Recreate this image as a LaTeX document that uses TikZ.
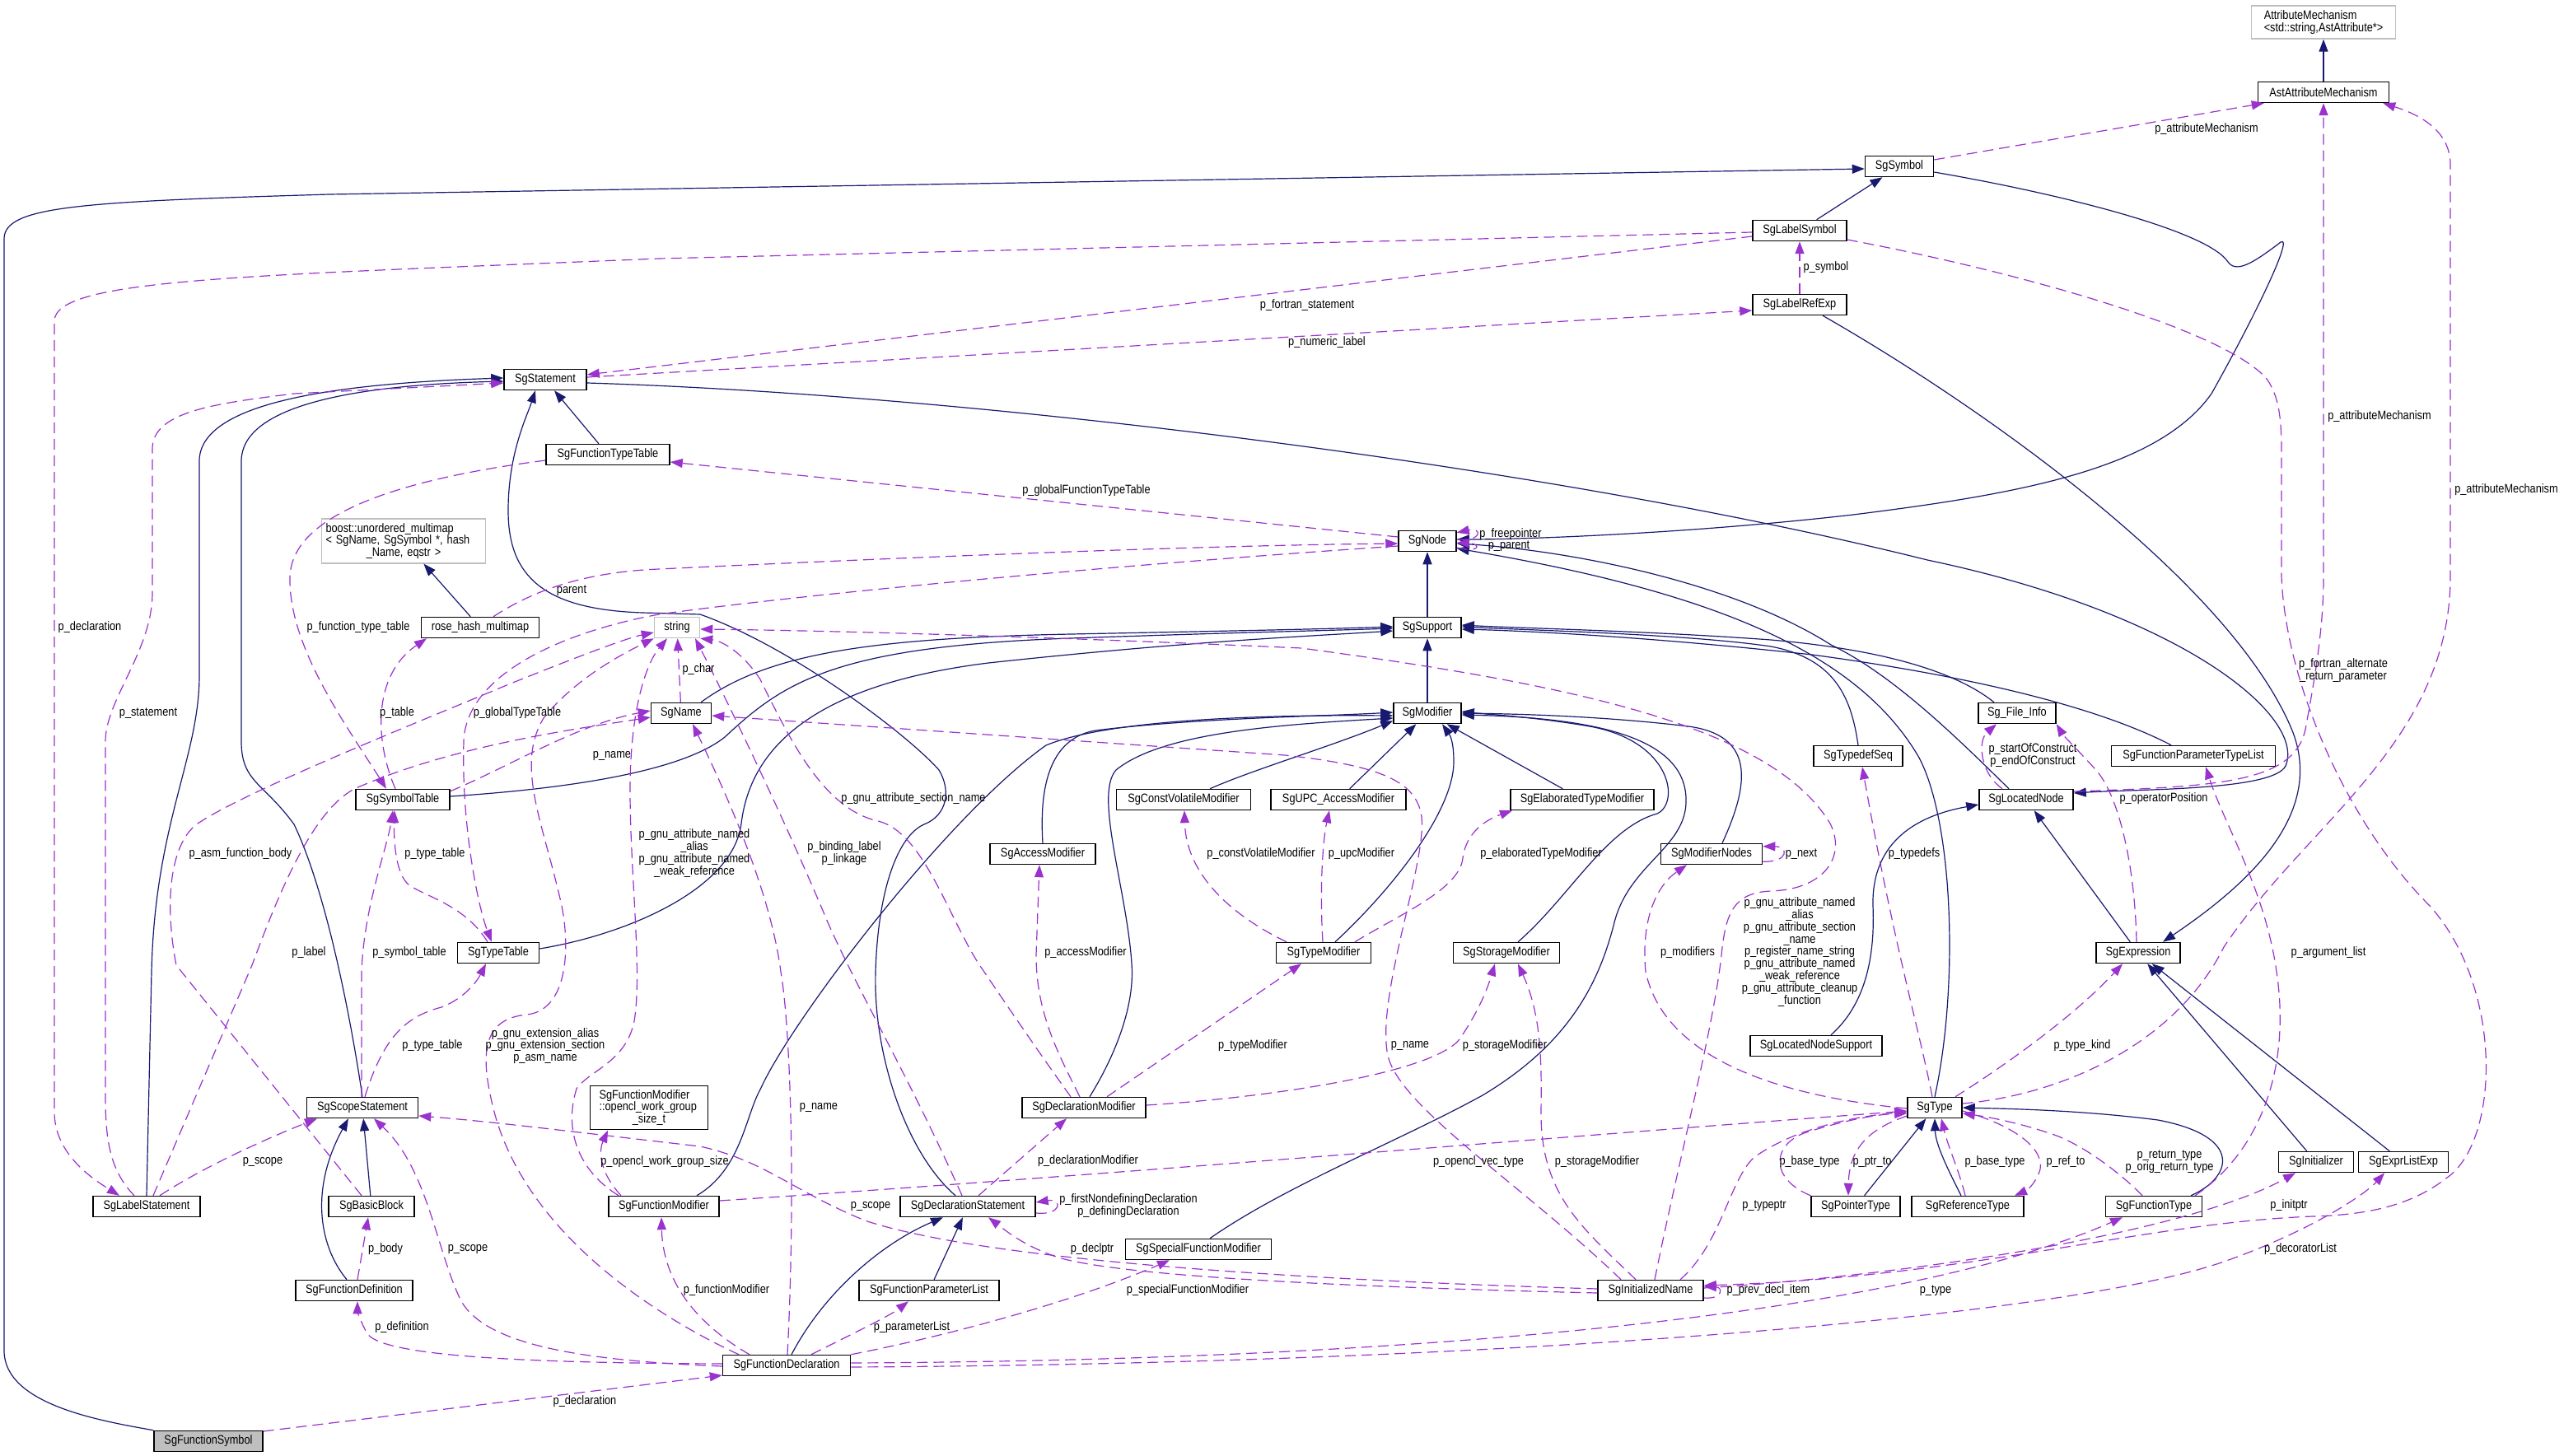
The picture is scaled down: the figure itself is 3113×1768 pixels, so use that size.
\documentclass[tikz,border=0pt]{standalone}
\usepackage{fontspec}
\setmainfont{Liberation Sans}[FakeStretch=0.85]
\usetikzlibrary{arrows.meta}
\definecolor{navy}{RGB}{25,25,112}
\definecolor{purp}{RGB}{154,50,205}
\definecolor{gbord}{RGB}{191,191,191}
\definecolor{fsgray}{RGB}{191,191,191}
\newcommand{\dgfont}{\fontsize{15}{14.8}\selectfont}
\tikzset{
 cls/.style={draw=black, line width=1.5pt, fill=white, minimum height=25pt, inner xsep=3pt, inner ysep=2pt, font=\dgfont, align=center},
 gcls/.style={cls, draw=gbord},
 inhedge/.style={draw=navy, line width=1.2pt, -{Triangle[length=15pt,width=11pt]}},
 usedge/.style={draw=purp, line width=1.2pt, dash pattern=on 13pt off 7pt, -{Triangle[length=15pt,width=11pt]}},
 lbl/.style={font=\dgfont, inner sep=0pt, align=center},
}
\begin{document}
\begin{tikzpicture}[x=1pt,y=-1pt]
\fill[white] (0,0) rectangle (3113,1768);
\useasboundingbox (0,0) rectangle (3113,1768);
% nodes
\node[gcls, align=left, minimum width=175pt, minimum height=40pt] (am) at (2821,27) {AttributeMechanism\\<std::string,AstAttribute*>};
\node[cls, minimum width=159pt] (aam) at (2821,112) {AstAttributeMechanism};
\node[cls, minimum width=83pt] (sym) at (2306,202) {SgSymbol};
\node[cls, minimum width=114pt] (lsym) at (2185,280) {SgLabelSymbol};
\node[cls, minimum width=114pt] (lref) at (2185,370) {SgLabelRefExp};
\node[cls, minimum width=100pt] (stmt) at (662,461) {SgStatement};
\node[cls, minimum width=150pt] (ftt) at (738,552) {SgFunctionTypeTable};
\node[gcls, text width=189pt, align=left, inner xsep=5pt, inner ysep=5pt] (boost) at (490,657) {boost::unordered\_multimap\\< SgName, SgSymbol *, hash\\\makebox[\linewidth][c]{\_Name, eqstr >}};
\node[cls, minimum width=143pt] (rhm) at (583,762) {rose\_hash\_multimap};
\node[cls, minimum width=70pt] (node) at (1733,657) {SgNode};
\node[cls, minimum width=82pt] (supp) at (1733,762) {SgSupport};
\node[gcls, minimum width=55pt] (str) at (822,762) {string};
\node[cls, minimum width=73pt] (name) at (827,866) {SgName};
\node[cls, minimum width=114pt] (symtab) at (489,971) {SgSymbolTable};
\node[cls, minimum width=82pt] (mod) at (1733,866) {SgModifier};
\node[cls, minimum width=94pt] (finfo) at (2449,866) {Sg\_File\_Info};
\node[cls, minimum width=199pt] (fptl) at (2663,918) {SgFunctionParameterTypeList};
\node[cls, minimum width=108pt] (tds) at (2256,918) {SgTypedefSeq};
\node[cls, minimum width=114pt] (locn) at (2460,971) {SgLocatedNode};
\node[cls, minimum width=163pt] (cvm) at (1437,971) {SgConstVolatileModifier};
\node[cls, minimum width=164pt] (upc) at (1625,971) {SgUPC\_AccessModifier};
\node[cls, minimum width=174pt] (etm) at (1921,971) {SgElaboratedTypeModifier};
\node[cls, minimum width=128pt] (accm) at (1266,1037) {SgAccessModifier};
\node[cls, minimum width=123pt] (modn) at (2078,1037) {SgModifierNodes};
\node[cls, minimum width=99pt] (tt) at (605,1157) {SgTypeTable};
\node[cls, minimum width=115pt] (tmod) at (1607,1157) {SgTypeModifier};
\node[cls, minimum width=129pt] (smod) at (1829,1157) {SgStorageModifier};
\node[cls, minimum width=102pt] (expr) at (2596,1157) {SgExpression};
\node[cls, minimum width=160pt] (lns) at (2205,1270) {SgLocatedNodeSupport};
\node[cls, text width=121pt, align=left, inner xsep=11pt, inner ysep=5pt] (ocl) at (788,1345) {SgFunctionModifier\\::opencl\_work\_group\\\makebox[\linewidth][c]{\_size\_t}};
\node[cls, minimum width=150pt] (dmod) at (1316,1345) {SgDeclarationModifier};
\node[cls, minimum width=135pt] (scope) at (440,1345) {SgScopeStatement};
\node[cls, minimum width=66pt] (type) at (2349,1345) {SgType};
\node[cls, minimum width=130pt] (lstmt) at (178,1465) {SgLabelStatement};
\node[cls, minimum width=104pt] (bb) at (451,1465) {SgBasicBlock};
\node[cls, minimum width=134pt] (fmod) at (806,1465) {SgFunctionModifier};
\node[cls, minimum width=164pt] (dstmt) at (1175,1465) {SgDeclarationStatement};
\node[cls, minimum width=108pt] (ptr) at (2253,1465) {SgPointerType};
\node[cls, minimum width=136pt] (ref) at (2389,1465) {SgReferenceType};
\node[cls, minimum width=117pt] (ftype) at (2615,1465) {SgFunctionType};
\node[cls, minimum width=91pt] (init) at (2812,1411) {SgInitializer};
\node[cls, minimum width=109pt] (elist) at (2918,1411) {SgExprListExp};
\node[cls, minimum width=177pt] (sfm) at (1455,1517) {SgSpecialFunctionModifier};
\node[cls, minimum width=142pt] (fdef) at (430,1567) {SgFunctionDefinition};
\node[cls, minimum width=170pt] (fpl) at (1128,1567) {SgFunctionParameterList};
\node[cls, minimum width=128pt] (iname) at (2004,1567) {SgInitializedName};
\node[cls, minimum width=155pt] (fdecl) at (955,1658) {SgFunctionDeclaration};
\node[cls, fill=fsgray, minimum width=132pt] (fsym) at (253,1750) {SgFunctionSymbol};

% inheritance edges
\draw[inhedge] (aam) -- (am);
\draw[inhedge] (fsym.north west) .. controls (120,1725) and (5,1705) .. (5,1640) -- (5,290) .. controls (5,250) and (100,245) .. (400,236) -- ([yshift=-3]sym.west);
\draw[inhedge] (lsym) -- (sym);
\draw[inhedge] ([yshift=-7]sym.east) .. controls (2500,235) and (2680,280) .. (2705,318) .. controls (2715,332) and (2735,320) .. (2769,294) .. controls (2785,285) and (2740,380) .. (2685,478) .. controls (2620,570) and (2450,600) .. (2250,625) .. controls (2050,648) and (1850,655) .. ([yshift=2]node.east);
\draw[inhedge] ([xshift=28]lref.south) .. controls (2400,490) and (2700,700) .. (2780,880) .. controls (2830,990) and (2720,1080) .. ([xshift=30]expr.north);
\draw[inhedge] (lstmt.north) -- (184,1180) .. controls (188,1000) and (242,920) .. (242,820) -- (242,560) .. controls (242,490) and (400,466) .. ([yshift=2]stmt.west);
\draw[inhedge] (scope.north) .. controls (425,1230) and (395,1080) .. (357,1001) .. controls (320,950) and (293,950) .. (293,900) -- (293,560) .. controls (293,495) and (420,468) .. ([yshift=-2]stmt.west);
\draw[inhedge] (ftt) -- (stmt);
\draw[inhedge] ([xshift=-15]dstmt.north) .. controls (1100,1400) and (1060,1280) .. (1063,1180) .. controls (1066,1080) and (1090,1015) .. (1122,1001) .. controls (1150,990) and (1155,960) .. (1140,935) .. controls (1100,890) and (960,785) .. (850,746) -- (780,744) .. controls (660,740) and (617,700) .. (617,620) .. controls (617,550) and (640,505) .. ([xshift=-12]stmt.south);
\draw[inhedge] ([yshift=-4]stmt.east) .. controls (1200,480) and (1900,570) .. (2340,680) .. controls (2650,745) and (2800,870) .. (2775,930) .. controls (2760,960) and (2600,958) .. ([yshift=8]locn.east);
\draw[inhedge] ([xshift=-21]locn.north) .. controls (2380,900) and (2300,820) .. (2223,783) .. controls (2100,705) and (1900,668) .. ([yshift=-3]node.east);
\draw[inhedge] (type.north) .. controls (2378,1200) and (2372,1000) .. (2330,920) .. controls (2260,800) and (2100,722) .. ([yshift=-9]node.east);
\draw[inhedge] (supp) -- (node);
\draw[inhedge] (mod) -- (supp);
\draw[inhedge] ([xshift=24]name.north) .. controls (930,795) and (1050,775) .. (1300,770) .. controls (1500,766) and (1600,764) .. ([yshift=1]supp.west);
\draw[inhedge] ([yshift=4]symtab.east) .. controls (700,957) and (830,935) .. (880,895) .. controls (950,830) and (1010,785) .. (1300,775) .. controls (1500,768) and (1600,766) .. ([yshift=-1]supp.west);
\draw[inhedge] ([yshift=5]tt.east) .. controls (760,1135) and (890,1080) .. (900,1000) .. controls (912,900) and (1000,830) .. (1200,805) .. controls (1450,778) and (1600,772) .. ([yshift=-4]supp.west);
\draw[inhedge] (tds.north) .. controls (2248,850) and (2230,800) .. (2150,785) .. controls (2050,770) and (1850,765) .. ([yshift=1]supp.east);
\draw[inhedge] ([xshift=-28]finfo.north) .. controls (2380,820) and (2300,790) .. (2150,777) .. controls (2000,766) and (1850,763) .. ([yshift=3]supp.east);
\draw[inhedge] ([xshift=-27]fptl.north) .. controls (2550,860) and (2400,822) .. (2200,795) .. controls (2000,773) and (1850,766) .. ([yshift=-2]supp.east);
\draw[inhedge] ([xshift=32]cvm.north) .. controls (1520,935) and (1620,905) .. ([yshift=4]mod.south west);
\draw[inhedge] (upc) -- (mod);
\draw[inhedge] (etm) -- (mod);
\draw[inhedge] ([xshift=14]tmod.north) .. controls (1690,1080) and (1765,985) .. (1765,925) .. controls (1765,905) and (1762,895) .. ([xshift=18]mod.south);
\draw[inhedge] ([xshift=14]smod.north) .. controls (1905,1090) and (1950,1005) .. (2012,988) .. controls (2040,975) and (2030,900) .. (1930,882) .. controls (1860,870) and (1800,867) .. ([yshift=2]mod.east);
\draw[inhedge] ([xshift=13]modn.north) .. controls (2125,950) and (2130,893) .. (2050,882) .. controls (1950,870) and (1850,867) .. (mod.east);
\draw[inhedge] ([xshift=14]sfm.north) .. controls (1560,1440) and (1700,1385) .. (1800,1330) .. controls (1900,1270) and (1940,1200) .. (1960,1120) .. controls (1978,1050) and (2045,1030) .. (2047,975) .. controls (2050,900) and (1950,872) .. ([yshift=-2]mod.east);
\draw[inhedge] ([xshift=40]fmod.north) .. controls (900,1420) and (905,1355) .. (923,1323) .. controls (960,1240) and (1150,990) .. (1270,905) .. controls (1350,872) and (1550,868) .. ([yshift=-3]mod.west);
\draw[inhedge] (accm.north) .. controls (1262,960) and (1272,897) .. (1330,887) .. controls (1450,872) and (1600,870) .. ([yshift=1]mod.west);
\draw[inhedge] ([xshift=7]dmod.north) .. controls (1355,1280) and (1378,1220) .. (1374,1170) .. controls (1368,1080) and (1328,965) .. (1355,935) .. controls (1410,890) and (1550,880) .. ([yshift=-6]mod.west);
\draw[inhedge] (expr) -- (locn);
\draw[inhedge] (init) -- (expr);
\draw[inhedge] (elist) -- (expr);
\draw[inhedge] ([xshift=18]lns.north) .. controls (2270,1215) and (2276,1150) .. (2274,1100) .. controls (2272,1020) and (2330,990) .. ([yshift=-6]locn.west);
\draw[inhedge] (ptr) -- (type);
\draw[inhedge] ([xshift=-8]ref.north) .. controls (2365,1420) and (2350,1390) .. (type.south);
\draw[inhedge] ([xshift=45]ftype.north) .. controls (2710,1430) and (2725,1380) .. (2620,1360) .. controls (2520,1347) and (2420,1346) .. (type.east);
\draw[inhedge] (bb) -- (scope);
\draw[inhedge] ([xshift=-9]fdef.north) .. controls (385,1510) and (378,1440) .. ([xshift=-17]scope.south);
\draw[inhedge] (fpl) -- (dstmt);
\draw[inhedge] ([xshift=6]fdecl.north) .. controls (1000,1570) and (1070,1510) .. ([xshift=-30]dstmt.south);
\draw[inhedge] (rhm) -- (boost);

% usage edges
\draw[usedge] ([yshift=8]sym.east) -- ([xshift=8]aam.south west);
\draw[usedge] ([yshift=10]locn.east) .. controls (2700,955) and (2790,950) .. (2800,880) .. controls (2815,800) and (2821,750) .. (2821,700) -- (aam.south);
\draw[usedge] ([yshift=5]type.east) .. controls (2500,1330) and (2640,1270) .. (2700,1150) .. controls (2800,1000) and (2975,900) .. (2975,700) -- (2975,200) .. controls (2975,160) and (2940,140) .. ([xshift=-8]aam.south east);
\draw[usedge] ([yshift=-7]lsym.west) -- ([yshift=6]stmt.east);
\draw[usedge] ([yshift=3]stmt.east) -- ([yshift=-7]lref.west);
\draw[usedge] ([yshift=-2]lsym.west) -- (800,314) .. controls (300,335) and (66,338) .. (66,390) -- (66,1350) .. controls (66,1400) and (110,1430) .. ([xshift=-33]lstmt.north);
\draw[usedge] (lref) -- (lsym);
\draw[usedge] ([xshift=-15]lstmt.north) .. controls (132,1420) and (128,1380) .. (128,1330) -- (128,900) .. controls (128,850) and (185,790) .. (185,720) -- (185,545) .. controls (185,500) and (260,490) .. (357,478) -- ([yshift=-4]stmt.west);
\draw[usedge] ([yshift=-7]ftt.west) .. controls (500,580) and (355,620) .. (352,700) .. controls (350,785) and (420,880) .. ([xshift=-20]symtab.north);
\draw[usedge] ([yshift=5]node.west) -- ([yshift=-9]ftt.east);
\draw[usedge] ([yshift=2]node.east) .. controls (1800,658) and (1800,640) .. ([yshift=-3]node.north east);
\draw[usedge] ([yshift=-8]node.east) .. controls (1798,672) and (1798,660) .. ([yshift=-2]node.east);
\draw[usedge] ([xshift=16]rhm.north) .. controls (640,722) and (700,695) .. (800,691) .. controls (1200,672) and (1500,662) .. ([yshift=-3]node.west);
\draw[usedge] ([yshift=-6]node.west) .. controls (1300,690) and (950,725) .. (800,746) .. controls (680,768) and (566,820) .. (563,900) .. controls (560,1000) and (580,1100) .. ([xshift=-8]tt.north);
\draw[usedge] ([xshift=-12]bb.north) -- (214,1172) .. controls (200,1100) and (205,1025) .. (240,1000) .. controls (300,960) and (500,880) .. (620,830) .. controls (700,798) and (760,775) .. ([yshift=-6]str.west);
\draw[usedge] ([xshift=8]lstmt.north) -- (306,1172) .. controls (340,1080) and (380,985) .. (430,958) .. controls (550,905) and (700,885) .. ([yshift=-5]name.west);
\draw[usedge] ([yshift=-3]symtab.north east) .. controls (620,930) and (700,880) .. ([yshift=3]name.west);
\draw[usedge] ([xshift=-9]symtab.north) .. controls (455,900) and (452,820) .. ([xshift=-65]rhm.south);
\draw[usedge] ([xshift=-13]tt.north) .. controls (565,1100) and (520,1090) .. (497,1075) .. controls (480,1062) and (478,1020) .. ([xshift=-10]symtab.south);
\draw[usedge] ([xshift=-1]scope.north) -- (439,1180) .. controls (442,1100) and (470,1030) .. ([xshift=-12]symtab.south);
\draw[usedge] ([xshift=3]scope.north) .. controls (465,1262) and (490,1235) .. (536,1223) .. controls (565,1212) and (580,1190) .. ([xshift=-15]tt.south);
\draw[usedge] ([xshift=16]lstmt.north) .. controls (250,1415) and (330,1380) .. ([xshift=-55]scope.south);
\draw[usedge] ([xshift=4]fdef.north) -- ([xshift=-4]bb.south);
\draw[usedge] ([yshift=2]fdecl.west) .. controls (650,1655) and (460,1648) .. (445,1618) .. controls (438,1605) and (434,1592) .. ([xshift=4]fdef.south);
\draw[usedge] ([yshift=-1]fdecl.west) .. controls (700,1652) and (590,1632) .. (560,1580) .. controls (530,1520) and (520,1420) .. ([xshift=14]scope.south);
\draw[usedge] ([yshift=12]fsym.east) -- ([yshift=-12]fdecl.west);
\draw[usedge] ([xshift=-58]fdecl.north) .. controls (800,1600) and (640,1500) .. (600,1350) .. controls (582,1280) and (585,1237) .. (640,1232) .. controls (690,1226) and (692,1150) .. (682,1100) .. controls (660,1000) and (625,930) .. (660,872) .. controls (700,822) and (760,792) .. (str.south west);
\draw[usedge] ([xshift=-55]fmod.north) .. controls (700,1420) and (685,1370) .. (700,1322) .. controls (715,1300) and (760,1290) .. (770,1240) .. controls (780,1180) and (765,1060) .. (765,960) .. controls (765,860) and (785,805) .. ([xshift=-12]str.south);
\draw[usedge] ([xshift=-52]fmod.north) .. controls (725,1420) and (728,1395) .. ([xshift=-50]ocl.south);
\draw[usedge] (name) -- (str);
\draw[usedge] ([xshift=-7]dstmt.north) .. controls (1100,1300) and (1045,1210) .. (1005,1120) .. controls (955,1000) and (880,845) .. ([xshift=22]str.south);
\draw[usedge] ([xshift=-16]dmod.north) .. controls (1250,1262) and (1212,1205) .. (1188,1170) .. controls (1150,1110) and (1120,1010) .. (1066,997) .. controls (1000,982) and (960,900) .. (923,825) .. controls (900,790) and (875,778) .. (str.south east);
\draw[usedge] ([xshift=1]fdecl.north) .. controls (966,1450) and (960,1250) .. (948,1180) .. controls (935,1080) and (880,960) .. ([xshift=14]name.south);
\draw[usedge] ([xshift=-36]iname.north) .. controls (1850,1440) and (1700,1345) .. (1685,1282) .. controls (1670,1210) and (1732,1050) .. (1726,992) .. controls (1720,950) and (1680,930) .. (1560,917) -- ([yshift=-3]name.east);
\draw[usedge] ([xshift=-5]dmod.north) .. controls (1285,1280) and (1258,1230) .. (1258,1160) -- ([xshift=-4]accm.south);
\draw[usedge] ([xshift=28]dmod.north) -- ([xshift=-27]tmod.south);
\draw[usedge] ([yshift=3]dmod.east) .. controls (1550,1332) and (1740,1302) .. (1772,1262) .. controls (1797,1225) and (1806,1200) .. ([xshift=-14]smod.south);
\draw[usedge] ([xshift=-18]iname.north) .. controls (1920,1490) and (1870,1450) .. (1871,1349) .. controls (1872,1280) and (1870,1230) .. ([xshift=14]smod.south);
\draw[usedge] ([xshift=-45]tmod.north) .. controls (1492,1110) and (1440,1060) .. ([xshift=1]cvm.south);
\draw[usedge] ([xshift=-1]tmod.north) .. controls (1602,1080) and (1606,1020) .. ([xshift=-11]upc.south);
\draw[usedge] ([xshift=38]tmod.north) .. controls (1700,1110) and (1772,1080) .. (1776,1042) .. controls (1780,1010) and (1805,995) .. ([xshift=-85]etm.south);
\draw[usedge] ([yshift=-1]type.west) .. controls (2150,1330) and (2020,1282) .. (1998,1180) .. controls (1992,1115) and (2012,1075) .. ([xshift=-30]modn.south);
\draw[usedge] ([yshift=4]modn.south east) .. controls (2172,1047) and (2172,1028) .. ([yshift=-4]modn.north east);
\draw[usedge] ([xshift=-3]type.north) .. controls (2330,1250) and (2300,1150) .. ([xshift=5]tds.south);
\draw[usedge] ([xshift=5]iname.north) .. controls (2040,1400) and (2080,1250) .. (2090,1160) .. controls (2095,1108) and (2105,1084) .. (2150,1082) .. controls (2215,1080) and (2242,1040) .. (2222,1000) .. controls (2150,880) and (1900,830) .. (1580,787) .. controls (1200,770) and (950,765) .. ([yshift=-2]str.east);
\draw[usedge] ([yshift=7]fmod.east) .. controls (1300,1430) and (1900,1380) .. ([yshift=-4]type.west);
\draw[usedge] ([yshift=2]iname.west) .. controls (1600,1555) and (1200,1532) .. (1050,1482) .. controls (960,1445) and (930,1410) .. (850,1392) .. controls (700,1375) and (600,1362) .. ([yshift=-10]scope.east);
\draw[usedge] ([yshift=-3]iname.west) .. controls (1600,1562) and (1350,1548) .. (1282,1526) .. controls (1242,1512) and (1222,1495) .. ([xshift=25]dstmt.south);
\draw[usedge] ([yshift=-8]dstmt.east) .. controls (1290,1476) and (1290,1455) .. ([yshift=5]dstmt.east);
\draw[usedge] ([xshift=13]dstmt.north) -- ([xshift=-21]dmod.south);
\draw[usedge] ([xshift=-45]fdecl.north) .. controls (850,1610) and (805,1560) .. ([xshift=-3]fmod.south);
\draw[usedge] ([xshift=30]fdecl.north) .. controls (1030,1622) and (1080,1598) .. ([xshift=-25]fpl.south);
\draw[usedge] (fdecl.north east) .. controls (1150,1622) and (1300,1582) .. ([xshift=-35]sfm.south);
\draw[usedge] ([yshift=3]fdecl.east) .. controls (1700,1652) and (2300,1600) .. ([xshift=-38]ftype.south);
\draw[usedge] ([yshift=-2]fdecl.east) .. controls (1800,1656) and (2500,1602) .. (2700,1532) .. controls (2800,1497) and (2870,1452) .. ([xshift=-23]elist.south);
\draw[usedge] ([yshift=3]iname.east) .. controls (2300,1550) and (2650,1500) .. ([xshift=-25]init.south);
\draw[usedge] ([yshift=-11]lsym.east) .. controls (2450,330) and (2700,400) .. (2752,460) .. controls (2770,485) and (2770,520) .. (2770,560) -- (2770,700) .. controls (2775,830) and (2850,1000) .. (2950,1100) .. controls (3040,1200) and (3035,1385) .. (2971,1430) .. controls (2930,1462) and (2880,1475) .. (2808,1477) .. controls (2600,1485) and (2400,1550) .. ([yshift=6]iname.east);
\draw[usedge] ([yshift=-9]iname.east) .. controls (2092,1578) and (2092,1563) .. ([yshift=5]iname.east);
\draw[usedge] ([xshift=36]iname.north) .. controls (2090,1510) and (2100,1432) .. (2130,1405) .. controls (2180,1370) and (2250,1356) .. ([yshift=-5]type.west);
\draw[usedge] (ptr.north west) .. controls (2150,1432) and (2150,1392) .. (2190,1376) .. controls (2240,1360) and (2280,1353) .. ([yshift=-7]type.west);
\draw[usedge] ([yshift=-10]type.west) .. controls (2272,1370) and (2245,1392) .. ([xshift=-9]ptr.north);
\draw[usedge] ([xshift=-3]ref.north) .. controls (2378,1420) and (2365,1392) .. ([xshift=8]type.south);
\draw[usedge] ([yshift=-4]type.east) .. controls (2440,1365) and (2482,1392) .. (2477,1420) .. controls (2472,1436) and (2462,1445) .. ([xshift=57]ref.north);
\draw[usedge] ([xshift=-14]ftype.north) .. controls (2570,1420) and (2522,1386) .. (2488,1376) .. controls (2450,1363) and (2412,1356) .. ([yshift=-7]type.east);
\draw[usedge] ([xshift=25]type.north) .. controls (2440,1290) and (2520,1232) .. ([xshift=-19]expr.south);
\draw[usedge] ([xshift=50]ftype.north) .. controls (2742,1400) and (2782,1300) .. (2764,1180) .. controls (2750,1080) and (2700,1000) .. ([xshift=15]fptl.south);
\draw[usedge] ([xshift=-2]expr.north) .. controls (2592,1050) and (2572,962) .. (2542,932) .. controls (2520,908) and (2505,893) .. (finfo.south east);
\draw[usedge] ([xshift=-29]locn.north) .. controls (2405,940) and (2400,900) .. ([xshift=-25]finfo.south);

% labels
\node[lbl] (L1) at (2679,157) {p\_attributeMechanism};
\node[lbl] (L2) at (2889,506) {p\_attributeMechanism};
\node[lbl] (L3) at (3043,595) {p\_attributeMechanism};
\node[lbl] (L4) at (2217,325) {p\_symbol};
\node[lbl] (L5) at (1587,371) {p\_fortran\_statement};
\node[lbl] (L6) at (1611,416) {p\_numeric\_label};
\node[lbl] (L7) at (109,762) {p\_declaration};
\node[lbl] (L8) at (180,866) {p\_statement};
\node[lbl] (L9) at (435,762) {p\_function\_type\_table};
\node[lbl] (L10) at (1319,596) {p\_globalFunctionTypeTable};
\node[lbl] (L11) at (1834,649) {p\_freepointer};
\node[lbl] (L12) at (1832,663) {p\_parent};
\node[lbl] (L13) at (694,717) {parent};
\node[lbl] (L14) at (482,866) {p\_table};
\node[lbl] (L15) at (628,866) {p\_globalTypeTable};
\node[lbl] (L16) at (743,918) {p\_name};
\node[lbl] (L17) at (292,1037) {p\_asm\_function\_body};
\node[lbl] (L18) at (528,1037) {p\_type\_table};
\node[lbl] (L19) at (375,1157) {p\_label};
\node[lbl] (L20) at (497,1157) {p\_symbol\_table};
\node[lbl] (L21) at (848,813) {p\_char};
\node[lbl] (L22) at (1109,970) {p\_gnu\_attribute\_section\_name};
\node[lbl] (L23) at (843,1036) {p\_gnu\_attribute\_named\\\_alias\\p\_gnu\_attribute\_named\\\_weak\_reference};
\node[lbl] (L24) at (1025,1036) {p\_binding\_label\\p\_linkage};
\node[lbl] (L25) at (1318,1157) {p\_accessModifier};
\node[lbl] (L26) at (1531,1037) {p\_constVolatileModifier};
\node[lbl] (L27) at (1653,1037) {p\_upcModifier};
\node[lbl] (L28) at (1871,1037) {p\_elaboratedTypeModifier};
\node[lbl] (L29) at (2187,1037) {p\_next};
\node[lbl] (L30) at (2049,1157) {p\_modifiers};
\node[lbl] (L31) at (2185,1156) {p\_gnu\_attribute\_named\\\_alias\\p\_gnu\_attribute\_section\\\_name\\p\_register\_name\_string\\p\_gnu\_attribute\_named\\\_weak\_reference\\p\_gnu\_attribute\_cleanup\\\_function};
\node[lbl] (L32) at (2324,1037) {p\_typedefs};
\node[lbl] (L33) at (2468,917) {p\_startOfConstruct\\p\_endOfConstruct};
\node[lbl] (L34) at (2627,970) {p\_operatorPosition};
\node[lbl] (L35) at (2845,814) {p\_fortran\_alternate\\\_return\_parameter};
\node[lbl] (L36) at (2827,1157) {p\_argument\_list};
\node[lbl] (L37) at (525,1270) {p\_type\_table};
\node[lbl] (L38) at (662,1270) {p\_gnu\_extension\_alias\\p\_gnu\_extension\_section\\p\_asm\_name};
\node[lbl] (L39) at (319,1411) {p\_scope};
\node[lbl] (L40) at (807,1411) {p\_opencl\_work\_group\_size};
\node[lbl] (L41) at (468,1517) {p\_body};
\node[lbl] (L42) at (568,1517) {p\_scope};
\node[lbl] (L43) at (488,1612) {p\_definition};
\node[lbl] (L44) at (710,1702) {p\_declaration};
\node[lbl] (L45) at (994,1345) {p\_name};
\node[lbl] (L46) at (1521,1270) {p\_typeModifier};
\node[lbl] (L47) at (1321,1410) {p\_declarationModifier};
\node[lbl] (L48) at (1370,1464) {p\_firstNondefiningDeclaration\\p\_definingDeclaration};
\node[lbl] (L49) at (1057,1465) {p\_scope};
\node[lbl] (L50) at (1326,1517) {p\_declptr};
\node[lbl] (L51) at (882,1567) {p\_functionModifier};
\node[lbl] (L52) at (1107,1612) {p\_parameterList};
\node[lbl] (L53) at (1442,1567) {p\_specialFunctionModifier};
\node[lbl] (L54) at (1712,1270) {p\_name};
\node[lbl] (L55) at (1827,1270) {p\_storageModifier};
\node[lbl] (L56) at (1795,1411) {p\_opencl\_vec\_type};
\node[lbl] (L57) at (1939,1411) {p\_storageModifier};
\node[lbl] (L58) at (2197,1411) {p\_base\_type};
\node[lbl] (L59) at (2273,1411) {p\_ptr\_to};
\node[lbl] (L60) at (2142,1464) {p\_typeptr};
\node[lbl] (L61) at (2147,1567) {p\_prev\_decl\_item};
\node[lbl] (L62) at (2350,1567) {p\_type};
\node[lbl] (L63) at (2528,1270) {p\_type\_kind};
\node[lbl] (L64) at (2422,1411) {p\_base\_type};
\node[lbl] (L65) at (2508,1411) {p\_ref\_to};
\node[lbl] (L66) at (2634,1411) {p\_return\_type\\p\_orig\_return\_type};
\node[lbl] (L67) at (2779,1464) {p\_initptr};
\node[lbl] (L68) at (2793,1517) {p\_decoratorList};
\end{tikzpicture}
\end{document}
